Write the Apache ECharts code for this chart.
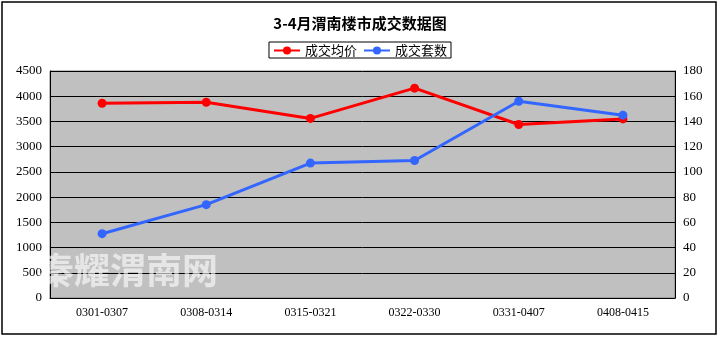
<!DOCTYPE html>
<html><head><meta charset="utf-8">
<script src="https://cdn.jsdelivr.net/npm/echarts@6/dist/echarts.min.js"></script>
<style>html,body{margin:0;padding:0;background:#fff}#c{width:720px;height:338px}</style>
</head><body><div id="c"></div>
<script>
const categories = ['0301-0307','0308-0314','0315-0321','0322-0330','0331-0407','0408-0415'];
const avgPrice = [3860, 3880, 3560, 4160, 3440, 3550];
const dealCount = [51, 74, 107, 109, 156, 145];
const leftTicks = [0, 4500, 500];
const rightTicks = [0, 180, 20];
const seriesNames = ['成交均价', '成交套数'];

const chart = echarts.init(document.getElementById('c'));
const serif = '"Liberation Serif","DejaVu Serif",serif';
chart.setOption({
  animation: false,
  backgroundColor: '#fff',
  title: {
    text: '3-4月渭南楼市成交数据图', left: 'center', top: 11,
    textStyle: {fontSize: 15, fontWeight: 'bold', color: '#000', fontFamily: '"Noto Sans CJK SC",sans-serif'}
  },
  legend: {
    top: 42, left: 'center', itemGap: 6, itemWidth: 26, itemHeight: 10,
    borderColor: '#000', borderWidth: 1, padding: [2, 4, 1, 4],
    textStyle: {fontSize: 13, color: '#000', fontFamily: '"Noto Sans CJK SC",sans-serif'},
    data: seriesNames
  },
  graphic: [
    {type: 'rect', shape: {x: 2, y: 2, width: 714, height: 332}, style: {fill: 'none', stroke: '#000', lineWidth: 1.5}, z: 100},
    {type: 'text', left: 38, top: 252, style: {text: '秦耀渭南网', fontSize: 36, fontWeight: 'bold', fill: 'rgba(255,255,255,0.6)', fontFamily: '"Noto Sans CJK SC",sans-serif'}, z: 50}
  ],
  grid: {left: 50, right: 45, top: 71, bottom: 40, show: true, backgroundColor: '#C0C0C0', borderColor: '#808080', borderWidth: 1},
  xAxis: {
    type: 'category', data: categories, boundaryGap: true,
    axisLine: {lineStyle: {color: '#000', width: 1}},
    axisTick: {inside: true, length: 5, lineStyle: {color: '#000'}},
    axisLabel: {color: '#000', fontSize: 12, fontFamily: serif, margin: 9}
  },
  yAxis: [
    {type: 'value', min: leftTicks[0], max: leftTicks[1], interval: leftTicks[2],
     axisLine: {show: true, lineStyle: {color: '#000'}}, axisTick: {show: false},
     axisLabel: {color: '#000', fontSize: 13, fontFamily: serif, margin: 8, formatter: v => String(v)},
     splitLine: {lineStyle: {color: '#000', width: 1}}},
    {type: 'value', min: rightTicks[0], max: rightTicks[1], interval: rightTicks[2],
     axisLine: {show: true, lineStyle: {color: '#000'}}, axisTick: {show: false},
     axisLabel: {color: '#000', fontSize: 13, fontFamily: serif, margin: 8, formatter: v => String(v)},
     splitLine: {show: false}}
  ],
  series: [
    {name: seriesNames[0], type: 'line', yAxisIndex: 0, data: avgPrice,
     symbol: 'circle', symbolSize: 9, lineStyle: {color: '#FF0000', width: 3}, itemStyle: {color: '#FF0000'}},
    {name: seriesNames[1], type: 'line', yAxisIndex: 1, data: dealCount,
     symbol: 'circle', symbolSize: 9, lineStyle: {color: '#3366FF', width: 3}, itemStyle: {color: '#3366FF'}}
  ]
});
</script></body></html>
